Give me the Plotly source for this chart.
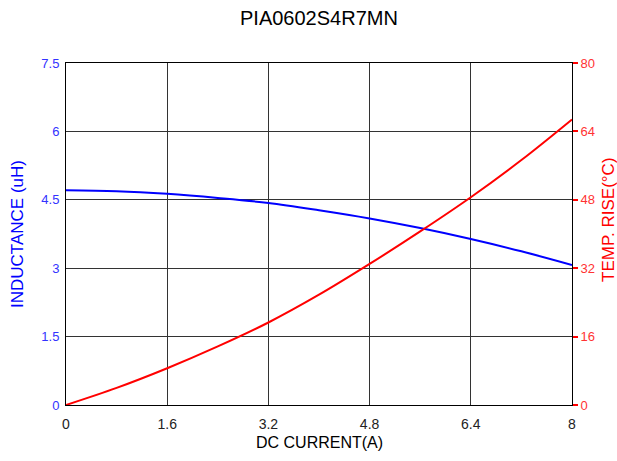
import plotly.graph_objects as go

current = [0, 0.8, 1.6, 2.4, 3.2, 4.0, 4.8, 5.6, 6.4, 7.2, 8.0]
inductance = [4.71, 4.69, 4.63, 4.54, 4.43, 4.27, 4.09, 3.88, 3.64, 3.37, 3.07]
temp_rise = [0, 4.0, 8.6, 13.7, 19.3, 25.8, 33.0, 40.6, 48.6, 57.3, 66.8]

x_ticks = [0, 1.6, 3.2, 4.8, 6.4, 8]
l_ticks = [0, 1.5, 3, 4.5, 6, 7.5]
r_ticks = [0, 16, 32, 48, 64, 80]

FONT = "Liberation Sans, Arial, sans-serif"
BLUE = "#0000ff"
RED = "#ff0000"

fig = go.Figure()
fig.add_trace(go.Scatter(x=current, y=inductance, mode="lines", line=dict(color=BLUE, width=2, shape="spline"),
                         yaxis="y", showlegend=False))
fig.add_trace(go.Scatter(x=current, y=temp_rise, mode="lines", line=dict(color=RED, width=2, shape="spline"),
                         yaxis="y2", showlegend=False))

# plot area on screen: x 66..572, y 63..405
W, H = 617, 461
L, T = 66, 63
PW, PH = 506, 342
fig.update_layout(
    width=W, height=H,
    margin=dict(l=L, r=W - L - PW, t=T, b=H - T - PH, autoexpand=False),
    paper_bgcolor="white", plot_bgcolor="white",
    font=dict(family=FONT, size=13, color="black"),
    xaxis=dict(range=[0, 8], tickvals=x_ticks, ticktext=[str(v) for v in x_ticks],
               showgrid=True, gridcolor="#333333", gridwidth=1, zeroline=False,
               showline=True, linecolor="black", linewidth=1, mirror=True,
               ticks="outside", ticklen=6, tickcolor="rgba(0,0,0,0)",
               tickfont=dict(size=14, color="#222222"), automargin=False),
    yaxis=dict(range=[0, 7.5], tickvals=l_ticks, ticktext=[str(v) for v in l_ticks],
               showgrid=True, gridcolor="#333333", gridwidth=1, zeroline=False,
               showline=True, linecolor="black", linewidth=1, mirror=True,
               ticks="outside", ticklen=3, tickcolor="rgba(0,0,0,0)",
               tickfont=dict(size=13, color="#3333ff"), automargin=False),
    yaxis2=dict(range=[0, 80], tickvals=r_ticks, ticktext=[str(v) for v in r_ticks],
                overlaying="y", side="right", showgrid=False, zeroline=False,
                showline=False, ticks="outside", ticklen=5, tickcolor=RED, tickwidth=2,
                tickfont=dict(size=13, color="#ff3333"), automargin=False),
    annotations=[
        dict(text="PIA0602S4R7MN", xref="paper", yref="paper", x=0.5, y=1 + (63 - 18) / PH,
             xanchor="center", yanchor="middle", showarrow=False,
             font=dict(family=FONT, size=20, color="black")),
        dict(text="DC CURRENT(A)", xref="paper", yref="paper", x=0.5, y=-(442 - 405) / PH,
             xanchor="center", yanchor="middle", showarrow=False,
             font=dict(family=FONT, size=16, color="black")),
        dict(text="INDUCTANCE (uH)", xref="paper", yref="paper", x=-(66 - 17) / PW, y=0.5,
             xanchor="center", yanchor="middle", showarrow=False, textangle=-90,
             font=dict(family=FONT, size=17, color=BLUE)),
        dict(text="TEMP. RISE(°C)", xref="paper", yref="paper", x=1 + (609 - 572) / PW,
             y=(405 - 220) / PH,
             xanchor="center", yanchor="middle", showarrow=False, textangle=-90,
             font=dict(family=FONT, size=17, color=RED)),
    ],
)

fig.write_html("out.html", config={"displayModeBar": False},
               post_script="document.body.style.margin='0';")
